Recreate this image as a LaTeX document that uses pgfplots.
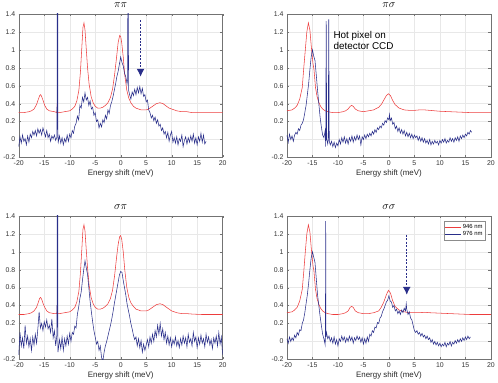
\documentclass[border=0pt]{standalone}
\usepackage{fontspec}
\setmainfont{Liberation Sans}
\usepackage{pgfplots}
\pgfplotsset{compat=1.18}
\usepgfplotslibrary{groupplots}
\usetikzlibrary{arrows.meta}
\definecolor{redline}{rgb}{0.93,0.24,0.24}
\definecolor{blueline}{rgb}{0.16,0.18,0.54}

\begin{document}
\begin{tikzpicture}
\begin{groupplot}[
  group style={group size=2 by 2, horizontal sep=65pt, vertical sep=59pt},
  scale only axis, width=206pt, height=145pt,
  xmin=-20, xmax=20, ymin=-0.2, ymax=1.4,
  xtick={-20,-15,...,20}, ytick={-0.2,0,0.2,0.4,0.6,0.8,1,1.2,1.4},
  /pgf/number format/assume math mode=true,
  yticklabel style={/pgf/number format/fixed, /pgf/number format/precision=1},
  tick label style={font=\fontsize{7}{8}\selectfont, text=black!80},
  xlabel={Energy shift (meV)},
  xlabel style={font=\fontsize{8}{9}\selectfont, text=black!85, yshift=3pt},
  grid=major, major grid style={gray!18, line width=0.4pt},
  axis line style={black!55}, tick style={black!55}, tick align=inside,
  major tick length=2.5pt,
  title style={font=\fontsize{10.5}{11}\selectfont, yshift=-3.5pt},
  every axis plot/.append style={line width=0.55pt},
]
% ---- pi pi ----
\nextgroupplot[title={$\pi\pi$}]
\addplot[redline] coordinates {
(-20,0.30) (-19,0.30) (-18,0.31) (-17.5,0.32) (-17,0.34) (-16.5,0.39) (-16.2,0.44) (-15.9,0.49) (-15.7,0.50) (-15.5,0.48) (-15.2,0.43) (-14.9,0.38) (-14.5,0.34) (-14,0.32) (-13,0.31) (-12.5,0.30) (-12.45,0.40) (-12.35,0.30) (-12,0.30) (-11,0.31) (-10,0.32) (-9.5,0.34) (-9,0.37) (-8.6,0.43) (-8.2,0.55) (-7.9,0.75) (-7.6,1.05) (-7.4,1.25) (-7.2,1.30) (-7.0,1.22) (-6.8,1.05) (-6.5,0.80) (-6.2,0.62) (-5.8,0.48) (-5.4,0.41) (-5,0.37) (-4.5,0.35) (-4,0.35) (-3.5,0.36) (-3,0.38) (-2.5,0.41) (-2,0.47) (-1.6,0.56) (-1.2,0.72) (-0.8,0.92) (-0.5,1.08) (-0.2,1.16) (0,1.15) (0.2,1.08) (0.5,0.92) (0.8,0.72) (1.2,0.55) (1.6,0.46) (2,0.41) (2.5,0.37) (3,0.35) (3.5,0.34) (4,0.33) (4.5,0.33) (5,0.33) (5.5,0.34) (6,0.36) (6.5,0.38) (7,0.40) (7.7,0.41) (8.3,0.40) (9,0.37) (9.5,0.35) (10,0.34) (11,0.32) (12,0.31) (13,0.31) (14,0.30) (16,0.30) (18,0.30) (20,0.30)};
\addplot[blueline] coordinates {
(-20,-0.08) (-19.75,0.03) (-19.5,-0.04) (-19.25,0.05) (-19,-0.02) (-18.75,0.01) (-18.5,-0.06) (-18.25,0.04) (-18,-0.03) (-17.75,0.06) (-17.5,0.02) (-17.25,0.09) (-17,0.05) (-16.75,0.10) (-16.5,0.04) (-16.25,0.12) (-16,0.07) (-15.75,0.11) (-15.5,0.05) (-15.25,0.13) (-15,0.08) (-14.75,0.03) (-14.5,0.10) (-14.25,0.02) (-14,0.06) (-13.75,-0.02) (-13.5,0.04) (-13.25,0.01) (-13,0.05) (-12.75,-0.01) (-12.5,0.03) (-12.45,1.5) (-12.35,1.5) (-12.3,0.02) (-12.25,-0.03) (-12,0.04) (-11.75,-0.04) (-11.5,0.02) (-11.25,-0.06) (-11,0.01) (-10.75,-0.03) (-10.5,0.05) (-10.25,-0.02) (-10,0.06) (-9.75,0.02) (-9.5,0.10) (-9.25,0.07) (-9,0.15) (-8.75,0.18) (-8.5,0.26) (-8.25,0.22) (-8,0.38) (-7.75,0.35) (-7.5,0.47) (-7.25,0.42) (-7,0.52) (-6.75,0.44) (-6.5,0.47) (-6.25,0.38) (-6,0.43) (-5.75,0.34) (-5.5,0.36) (-5.25,0.27) (-5,0.30) (-4.75,0.20) (-4.5,0.22) (-4.25,0.13) (-4,0.18) (-3.75,0.14) (-3.5,0.22) (-3.25,0.19) (-3,0.27) (-2.75,0.23) (-2.5,0.33) (-2.25,0.29) (-2,0.38) (-1.75,0.42) (-1.5,0.48) (-1.25,0.55) (-1,0.62) (-0.75,0.70) (-0.5,0.76) (-0.25,0.84) (0,0.92) (0.25,0.86) (0.5,0.82) (0.75,0.74) (1,0.70) (1.25,0.62) (1.35,0.66) (1.4,1.5) (1.5,1.5) (1.55,0.55) (1.75,0.50) (2,0.45) (2.25,0.53) (2.5,0.49) (2.75,0.56) (3,0.50) (3.25,0.58) (3.5,0.52) (3.75,0.59) (4,0.51) (4.25,0.57) (4.5,0.48) (4.75,0.50) (5,0.42) (5.25,0.44) (5.5,0.33) (5.75,0.30) (6,0.24) (6.25,0.27) (6.5,0.21) (6.75,0.25) (7,0.18) (7.25,0.22) (7.5,0.15) (7.75,0.17) (8,0.10) (8.25,0.13) (8.5,0.06) (8.75,0.09) (9,0.02) (9.25,0.08) (9.5,-0.02) (9.75,0.05) (10,0.09) (10.25,-0.03) (10.5,0.02) (10.75,-0.04) (11,0.03) (11.25,-0.06) (11.5,0.01) (11.75,-0.02) (12,0.05) (12.25,-0.08) (12.5,-0.01) (12.75,0.03) (13,-0.05) (13.25,0.02) (13.5,-0.03) (13.75,0.04) (14,-0.02) (14.25,0.06) (14.5,-0.04) (14.75,0.02) (15,-0.06) (15.25,0.03) (15.5,-0.02) (15.75,0.07) (16,-0.03) (16.25,0.05) (16.5,-0.05) (16.75,-0.02)};
\draw[blueline, dash pattern=on 2pt off 1.5pt, line width=1.1pt, -{Latex[length=8pt,width=8pt]}] (axis cs:3.9,1.33) -- (axis cs:3.9,0.70);
% ---- pi sigma ----
\nextgroupplot[title={$\pi\sigma$}]
\addplot[redline] coordinates {
(-20,0.32) (-19,0.33) (-18.5,0.35) (-18,0.38) (-17.5,0.45) (-17,0.58) (-16.7,0.80) (-16.4,1.00) (-16.1,1.20) (-15.8,1.30) (-15.5,1.22) (-15.2,1.02) (-14.9,0.85) (-14.7,0.78) (-14.4,0.58) (-14.1,0.48) (-13.8,0.42) (-13.4,0.37) (-13,0.34) (-12.5,0.32) (-12,0.31) (-11,0.30) (-10,0.30) (-9,0.31) (-8.5,0.32) (-8,0.34) (-7.6,0.37) (-7.3,0.38) (-7,0.37) (-6.6,0.34) (-6,0.32) (-5,0.31) (-4,0.32) (-3,0.33) (-2,0.36) (-1.5,0.39) (-1,0.44) (-0.5,0.49) (-0.1,0.51) (0.3,0.49) (0.7,0.44) (1.2,0.39) (2,0.35) (3,0.33) (4,0.325) (5,0.325) (6,0.33) (7,0.33) (8,0.325) (10,0.315) (12,0.31) (14,0.305) (16,0.30) (18,0.30) (20,0.30)};
\addplot[blueline] coordinates {
(-20,0.05) (-19.75,-0.03) (-19.5,0.06) (-19.25,0.00) (-19,0.04) (-18.75,-0.02) (-18.5,0.05) (-18.25,0.08) (-18,0.06) (-17.75,0.12) (-17.5,0.10) (-17.25,0.16) (-17,0.18) (-16.75,0.22) (-16.5,0.30) (-16.25,0.38) (-16,0.50) (-15.75,0.62) (-15.5,0.78) (-15.25,0.92) (-15,1.00) (-14.75,0.93) (-14.5,0.88) (-14.25,0.72) (-14,0.55) (-13.75,0.40) (-13.5,0.25) (-13.25,0.14) (-13,0.05) (-12.75,0.02) (-12.5,0.10) (-12.4,-0.08) (-12.3,1.32) (-12.2,0.00) (-12,-0.05) (-11.9,0.02) (-11.8,1.34) (-11.7,-0.02) (-11.5,-0.06) (-11.25,-0.02) (-11,-0.08) (-10.75,-0.03) (-10.5,-0.09) (-10.25,-0.04) (-10,-0.07) (-9.75,0.00) (-9.5,-0.05) (-9.25,0.02) (-9,-0.03) (-8.75,0.03) (-8.5,-0.04) (-8.25,0.01) (-8,-0.05) (-7.75,0.02) (-7.5,-0.02) (-7.25,0.04) (-7,-0.03) (-6.75,0.03) (-6.5,-0.01) (-6.25,0.05) (-6,0.00) (-5.75,0.04) (-5.5,-0.06) (-5.25,0.03) (-5,0.00) (-4.75,0.05) (-4.5,0.01) (-4.25,0.06) (-4,0.03) (-3.75,0.07) (-3.5,0.04) (-3.25,0.09) (-3,0.06) (-2.75,0.11) (-2.5,0.08) (-2.25,0.13) (-2,0.11) (-1.75,0.15) (-1.5,0.13) (-1.25,0.18) (-1,0.16) (-0.75,0.21) (-0.5,0.19) (-0.25,0.24) (0,0.22) (0.1,0.28) (0.25,0.21) (0.5,0.24) (0.75,0.17) (1,0.19) (1.25,0.12) (1.5,0.15) (1.75,0.09) (2,0.13) (2.25,0.07) (2.5,0.11) (2.75,0.06) (3,0.10) (3.25,0.04) (3.5,0.08) (3.75,0.03) (4,0.07) (4.25,0.02) (4.5,0.06) (4.75,0.01) (5,0.05) (5.25,0.02) (5.5,0.04) (5.75,-0.01) (6,0.03) (6.25,-0.02) (6.5,0.02) (6.75,-0.03) (7,0.01) (7.25,-0.04) (7.5,-0.01) (7.75,-0.05) (8,0.00) (8.25,-0.06) (8.5,-0.02) (8.75,-0.05) (9,-0.01) (9.25,-0.04) (9.5,-0.02) (9.75,-0.06) (10,-0.01) (10.25,-0.04) (10.5,0.00) (10.75,-0.03) (11,0.01) (11.25,-0.04) (11.5,-0.01) (11.75,-0.03) (12,0.02) (12.25,-0.02) (12.5,0.01) (12.75,-0.03) (13,0.02) (13.25,-0.01) (13.5,0.03) (13.75,-0.02) (14,0.04) (14.25,0.01) (14.5,0.05) (14.75,0.02) (15,0.06) (15.25,0.04) (15.5,0.08) (15.75,0.06) (16,0.10) (16.25,0.08)};
\node[anchor=north west, align=left, font=\fontsize{10}{11.5}\selectfont, inner sep=0pt] at (axis cs:-10.9,1.21) {Hot pixel on\\detector CCD};
% ---- sigma pi ----
\nextgroupplot[title={$\sigma\pi$}]
\addplot[redline] coordinates {
(-20,0.30) (-19,0.30) (-18,0.31) (-17.5,0.32) (-17,0.34) (-16.5,0.38) (-16.2,0.43) (-15.9,0.48) (-15.7,0.49) (-15.5,0.47) (-15.2,0.42) (-14.9,0.38) (-14.5,0.34) (-14,0.32) (-13,0.31) (-12.5,0.31) (-12.45,0.40) (-12.35,0.31) (-12,0.31) (-11,0.32) (-10,0.33) (-9.5,0.35) (-9,0.38) (-8.6,0.44) (-8.2,0.56) (-7.9,0.76) (-7.6,1.05) (-7.4,1.25) (-7.2,1.30) (-7.0,1.23) (-6.8,1.06) (-6.5,0.82) (-6.2,0.63) (-5.8,0.49) (-5.4,0.42) (-5,0.38) (-4.5,0.36) (-4,0.36) (-3.5,0.37) (-3,0.39) (-2.5,0.42) (-2,0.48) (-1.6,0.57) (-1.2,0.73) (-0.8,0.94) (-0.5,1.08) (-0.2,1.17) (0,1.18) (0.2,1.14) (0.5,1.00) (0.8,0.80) (1.2,0.60) (1.6,0.49) (2,0.43) (2.5,0.39) (3,0.36) (3.5,0.35) (4,0.34) (4.5,0.34) (5,0.34) (5.5,0.35) (6,0.37) (6.5,0.39) (7,0.41) (7.7,0.42) (8.3,0.41) (9,0.38) (9.5,0.36) (10,0.34) (11,0.32) (12,0.31) (13,0.31) (14,0.305) (16,0.30) (18,0.30) (20,0.30)};
\addplot[blueline] coordinates {
(-20,-0.15) (-19.75,0.10) (-19.5,-0.05) (-19.25,0.04) (-19,-0.08) (-18.75,0.18) (-18.5,-0.02) (-18.25,0.06) (-18,-0.06) (-17.75,0.03) (-17.5,-0.10) (-17.25,0.05) (-17,-0.04) (-16.75,0.08) (-16.5,-0.02) (-16.25,0.14) (-16,0.33) (-15.75,0.15) (-15.5,0.20) (-15.25,0.12) (-15,0.22) (-14.75,0.16) (-14.5,0.24) (-14.25,0.14) (-14,0.18) (-13.75,0.10) (-13.5,0.25) (-13.25,0.04) (-13,0.12) (-12.75,-0.05) (-12.5,0.08) (-12.45,1.5) (-12.35,1.5) (-12.3,-0.12) (-12,0.02) (-11.75,-0.08) (-11.5,0.05) (-11.25,-0.10) (-11,0.03) (-10.75,-0.05) (-10.5,0.06) (-10.25,-0.03) (-10,0.09) (-9.75,0.00) (-9.5,0.10) (-9.25,0.08) (-9,0.17) (-8.75,0.15) (-8.5,0.30) (-8.25,0.38) (-8,0.48) (-7.75,0.55) (-7.5,0.68) (-7.25,0.80) (-7,0.90) (-6.75,0.82) (-6.5,0.75) (-6.25,0.60) (-6,0.45) (-5.75,0.33) (-5.5,0.22) (-5.25,0.12) (-5,0.05) (-4.75,-0.03) (-4.5,0.00) (-4.25,-0.10) (-4,-0.05) (-3.75,-0.18) (-3.5,-0.22) (-3.25,-0.12) (-3,-0.05) (-2.75,0.00) (-2.5,0.06) (-2.25,0.12) (-2,0.18) (-1.75,0.25) (-1.5,0.33) (-1.25,0.42) (-1,0.50) (-0.75,0.58) (-0.5,0.66) (-0.25,0.74) (0,0.78) (0.25,0.77) (0.5,0.68) (0.75,0.60) (1,0.52) (1.25,0.42) (1.5,0.35) (1.75,0.28) (2,0.20) (2.25,0.14) (2.5,0.07) (2.75,0.02) (3,0.05) (3.25,-0.05) (3.5,0.03) (3.75,-0.07) (4,0.01) (4.25,-0.12) (4.5,-0.03) (4.75,-0.10) (5,-0.04) (5.25,0.02) (5.5,-0.06) (5.75,0.05) (6,-0.02) (6.25,0.08) (6.5,0.00) (6.75,0.12) (7,0.05) (7.25,0.18) (7.5,0.08) (7.75,0.20) (8,0.06) (8.25,0.14) (8.5,0.02) (8.75,0.10) (9,-0.02) (9.25,0.06) (9.5,-0.04) (9.75,0.04) (10,-0.06) (10.25,0.02) (10.5,-0.03) (10.75,0.05) (11,-0.05) (11.25,0.01) (11.5,-0.07) (11.75,0.03) (12,-0.04) (12.25,0.06) (12.5,-0.02) (12.75,0.04) (13,-0.06) (13.25,0.08) (13.5,-0.01) (13.75,0.03) (14,-0.05) (14.25,0.10) (14.5,0.00) (14.75,0.05) (15,-0.07) (15.25,0.04) (15.5,-0.03) (15.75,0.07) (16,-0.02) (16.25,0.03) (16.5,-0.06) (16.75,0.08) (17,-0.01) (17.25,0.05) (17.5,-0.04) (17.75,0.02) (18,-0.08) (18.25,0.04) (18.5,-0.02) (18.75,0.06) (19,-0.05) (19.25,0.10) (19.5,-0.03) (19.75,0.05) (20,-0.15)};
% ---- sigma sigma ----
\nextgroupplot[title={$\sigma\sigma$},
  legend style={at={(rel axis cs:0.975,0.965)}, anchor=north east, font=\fontsize{6}{6.5}\selectfont,
    draw=black!45, inner sep=1pt, row sep=-2pt, fill=white},
  legend image code/.code={\draw[#1, line width=0.6pt] (0cm,0cm) -- (0.55cm,0cm);}]
\addplot[redline] coordinates {
(-20,0.32) (-19,0.33) (-18.5,0.35) (-18,0.38) (-17.5,0.45) (-17,0.58) (-16.7,0.78) (-16.4,1.00) (-16.1,1.20) (-15.8,1.30) (-15.5,1.22) (-15.2,1.02) (-14.9,0.85) (-14.7,0.78) (-14.4,0.58) (-14.1,0.48) (-13.8,0.42) (-13.4,0.37) (-13,0.34) (-12.5,0.32) (-12,0.31) (-11,0.30) (-10,0.30) (-9,0.31) (-8.5,0.32) (-8,0.34) (-7.6,0.38) (-7.3,0.39) (-7,0.38) (-6.6,0.34) (-6,0.32) (-5,0.31) (-4,0.31) (-3,0.32) (-2,0.34) (-1.5,0.38) (-1,0.44) (-0.5,0.52) (-0.1,0.57) (0.3,0.54) (0.7,0.46) (1.2,0.39) (2,0.35) (3,0.33) (4,0.32) (5,0.32) (6,0.32) (7,0.325) (8,0.32) (10,0.315) (12,0.31) (14,0.305) (16,0.30) (18,0.30) (20,0.30)};
\addplot[blueline] coordinates {
(-20,0.03) (-19.75,-0.02) (-19.5,0.05) (-19.25,0.00) (-19,0.04) (-18.75,0.01) (-18.5,0.07) (-18.25,0.04) (-18,0.10) (-17.75,0.07) (-17.5,0.13) (-17.25,0.12) (-17,0.20) (-16.75,0.24) (-16.5,0.32) (-16.25,0.42) (-16,0.52) (-15.75,0.65) (-15.5,0.80) (-15.25,0.93) (-15,1.00) (-14.75,0.94) (-14.5,0.88) (-14.25,0.70) (-14,0.52) (-13.75,0.40) (-13.5,0.28) (-13.25,0.18) (-13,0.08) (-12.75,0.03) (-12.5,-0.04) (-12.45,0.20) (-12.4,1.34) (-12.35,0.05) (-12.25,0.10) (-12,0.03) (-11.75,0.06) (-11.5,0.00) (-11.25,0.04) (-11,-0.02) (-10.75,0.05) (-10.5,-0.03) (-10.25,0.02) (-10,-0.05) (-9.75,0.03) (-9.5,0.00) (-9.25,0.06) (-9,0.01) (-8.75,0.05) (-8.5,-0.01) (-8.25,0.04) (-8,0.00) (-7.75,0.06) (-7.5,0.01) (-7.25,0.05) (-7,-0.02) (-6.75,0.04) (-6.5,0.01) (-6.25,0.06) (-6,0.02) (-5.75,0.05) (-5.5,-0.01) (-5.25,0.04) (-5,-0.03) (-4.75,0.03) (-4.5,-0.02) (-4.25,0.05) (-4,0.00) (-3.75,0.08) (-3.5,0.06) (-3.25,0.12) (-3,0.10) (-2.75,0.16) (-2.5,0.15) (-2.25,0.21) (-2,0.20) (-1.75,0.26) (-1.5,0.28) (-1.25,0.33) (-1,0.36) (-0.75,0.40) (-0.5,0.44) (-0.25,0.46) (0,0.51) (0.25,0.45) (0.5,0.44) (0.75,0.38) (1,0.40) (1.25,0.34) (1.5,0.36) (1.75,0.31) (2,0.34) (2.25,0.30) (2.5,0.35) (2.75,0.32) (3,0.37) (3.25,0.34) (3.4,0.42) (3.5,0.36) (3.75,0.30) (4,0.33) (4.25,0.26) (4.5,0.24) (4.75,0.18) (5,0.12) (5.25,0.10) (5.5,0.12) (5.75,0.08) (6,0.10) (6.25,0.06) (6.5,0.09) (6.75,0.05) (7,0.07) (7.25,0.03) (7.5,0.06) (7.75,0.02) (8,0.04) (8.25,-0.01) (8.5,0.02) (8.75,-0.03) (9,0.00) (9.25,-0.04) (9.5,-0.01) (9.75,-0.05) (10,-0.02) (10.25,-0.06) (10.5,-0.03) (10.75,-0.05) (11,-0.01) (11.25,-0.06) (11.5,-0.02) (11.75,-0.04) (12,0.00) (12.25,-0.05) (12.5,-0.01) (12.75,-0.03) (13,0.01) (13.25,-0.02) (13.5,0.02) (13.75,-0.01) (14,0.03) (14.25,0.00) (14.5,0.04) (14.75,0.01) (15,0.05) (15.25,0.02) (15.5,0.06) (15.75,0.03) (16,0.05)};
\legend{946 nm, 976 nm}
\draw[blueline, dash pattern=on 2pt off 1.5pt, line width=1.1pt, -{Latex[length=8pt,width=8pt]}] (axis cs:3.5,1.19) -- (axis cs:3.5,0.52);
\end{groupplot}
\end{tikzpicture}
\end{document}
